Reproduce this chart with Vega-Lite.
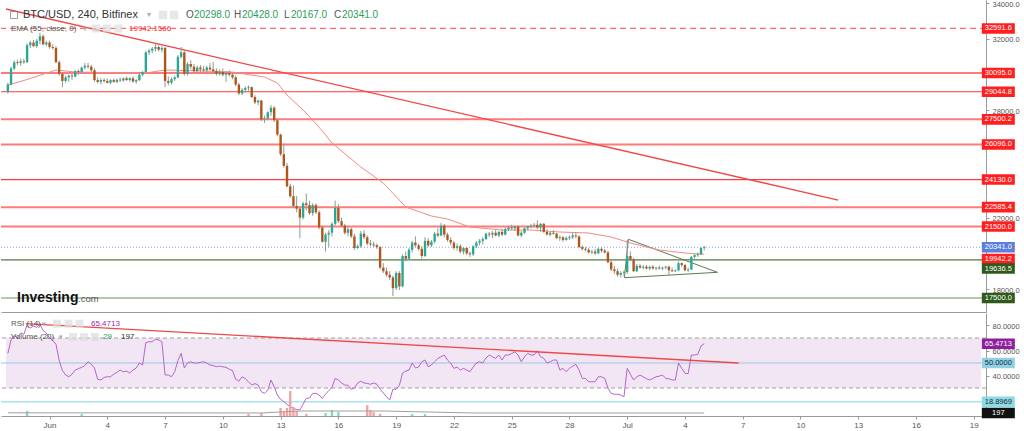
{
  "$schema": "https://vega.github.io/schema/vega-lite/v6.json",
  "padding": 0,
  "autosize": {"type": "pad"},
  "background": "#ffffff",
  "spacing": 1,
  "bounds": "flush",
  "config": {
    "view": {"stroke": null},
    "axis": {"labelFont": "Liberation Sans", "titleFont": "Liberation Sans"},
    "text": {"font": "Liberation Sans"}
  },
  "datasets": {
    "candles": [
      {"t":"2022-05-29T20:00","o":29050,"h":29550,"l":28950,"c":29450,"r":57.7},
      {"t":"2022-05-30T00:00","o":29450,"h":30450,"l":29400,"c":30350,"r":68.4},
      {"t":"2022-05-30T04:00","o":30350,"h":30800,"l":30250,"c":30700,"r":72},
      {"t":"2022-05-30T08:00","o":30700,"h":30850,"l":30550,"c":30650,"r":70},
      {"t":"2022-05-30T12:00","o":30650,"h":30900,"l":30500,"c":30750,"r":74},
      {"t":"2022-05-30T16:00","o":30750,"h":30900,"l":30600,"c":30700,"r":73},
      {"t":"2022-05-30T20:00","o":30700,"h":31750,"l":30650,"c":31650,"r":80.5},
      {"t":"2022-05-31T00:00","o":31650,"h":31900,"l":31500,"c":31800,"r":78},
      {"t":"2022-05-31T04:00","o":31800,"h":31950,"l":31550,"c":31600,"r":79.5},
      {"t":"2022-05-31T08:00","o":31600,"h":32000,"l":31500,"c":31900,"r":78.5},
      {"t":"2022-05-31T12:00","o":31900,"h":32350,"l":31700,"c":32150,"r":81},
      {"t":"2022-05-31T16:00","o":32150,"h":32250,"l":31650,"c":31700,"r":76},
      {"t":"2022-05-31T20:00","o":31700,"h":31900,"l":31600,"c":31800,"r":74},
      {"t":"2022-06-01T00:00","o":31800,"h":31900,"l":31450,"c":31550,"r":70},
      {"t":"2022-06-01T04:00","o":31550,"h":31700,"l":31400,"c":31500,"r":68},
      {"t":"2022-06-01T08:00","o":31500,"h":31600,"l":30650,"c":30700,"r":65},
      {"t":"2022-06-01T12:00","o":30700,"h":30800,"l":29950,"c":30050,"r":52},
      {"t":"2022-06-01T16:00","o":30050,"h":30150,"l":29300,"c":29650,"r":44},
      {"t":"2022-06-01T20:00","o":29650,"h":29950,"l":29550,"c":29850,"r":40.4},
      {"t":"2022-06-02T00:00","o":29850,"h":30000,"l":29600,"c":29950,"r":39},
      {"t":"2022-06-02T04:00","o":29950,"h":30050,"l":29700,"c":29900,"r":41},
      {"t":"2022-06-02T08:00","o":29900,"h":30250,"l":29850,"c":30200,"r":44.4},
      {"t":"2022-06-02T12:00","o":30200,"h":30300,"l":30000,"c":30150,"r":45.5},
      {"t":"2022-06-02T16:00","o":30150,"h":30450,"l":30100,"c":30400,"r":46.5},
      {"t":"2022-06-02T20:00","o":30400,"h":30650,"l":30300,"c":30500,"r":48},
      {"t":"2022-06-03T00:00","o":30500,"h":30650,"l":30350,"c":30450,"r":51},
      {"t":"2022-06-03T04:00","o":30450,"h":30550,"l":30150,"c":30250,"r":49},
      {"t":"2022-06-03T08:00","o":30250,"h":30350,"l":29600,"c":29700,"r":46},
      {"t":"2022-06-03T12:00","o":29700,"h":29850,"l":29500,"c":29600,"r":37},
      {"t":"2022-06-03T16:00","o":29600,"h":29800,"l":29450,"c":29700,"r":36.4},
      {"t":"2022-06-03T20:00","o":29700,"h":29800,"l":29550,"c":29650,"r":38.5},
      {"t":"2022-06-04T00:00","o":29650,"h":29800,"l":29500,"c":29550,"r":39},
      {"t":"2022-06-04T04:00","o":29550,"h":29750,"l":29480,"c":29700,"r":39},
      {"t":"2022-06-04T08:00","o":29700,"h":29800,"l":29550,"c":29600,"r":41},
      {"t":"2022-06-04T12:00","o":29600,"h":29780,"l":29520,"c":29720,"r":42.5},
      {"t":"2022-06-04T16:00","o":29720,"h":29850,"l":29600,"c":29680,"r":44.4},
      {"t":"2022-06-04T20:00","o":29680,"h":29850,"l":29600,"c":29800,"r":43},
      {"t":"2022-06-05T00:00","o":29800,"h":29900,"l":29650,"c":29700,"r":43.5},
      {"t":"2022-06-05T04:00","o":29700,"h":29850,"l":29600,"c":29800,"r":42},
      {"t":"2022-06-05T08:00","o":29800,"h":29900,"l":29550,"c":29620,"r":44.4},
      {"t":"2022-06-05T12:00","o":29620,"h":29750,"l":29500,"c":29700,"r":46},
      {"t":"2022-06-05T16:00","o":29700,"h":30050,"l":29650,"c":30000,"r":50},
      {"t":"2022-06-05T20:00","o":30000,"h":30200,"l":29900,"c":30150,"r":48.4},
      {"t":"2022-06-06T00:00","o":30150,"h":31350,"l":30100,"c":31250,"r":66.3},
      {"t":"2022-06-06T04:00","o":31250,"h":31450,"l":31100,"c":31350,"r":67},
      {"t":"2022-06-06T08:00","o":31350,"h":31550,"l":31200,"c":31450,"r":67},
      {"t":"2022-06-06T12:00","o":31450,"h":31750,"l":31300,"c":31550,"r":69},
      {"t":"2022-06-06T16:00","o":31550,"h":31650,"l":31300,"c":31400,"r":68.5},
      {"t":"2022-06-06T20:00","o":31400,"h":31600,"l":31250,"c":31500,"r":67},
      {"t":"2022-06-07T00:00","o":31500,"h":31550,"l":29300,"c":29650,"r":40.4},
      {"t":"2022-06-07T04:00","o":29650,"h":29900,"l":29400,"c":29550,"r":40.4},
      {"t":"2022-06-07T08:00","o":29550,"h":29850,"l":29450,"c":29750,"r":39},
      {"t":"2022-06-07T12:00","o":29750,"h":29950,"l":29650,"c":29850,"r":43},
      {"t":"2022-06-07T16:00","o":29850,"h":31100,"l":29800,"c":31000,"r":52},
      {"t":"2022-06-07T20:00","o":31000,"h":31550,"l":30900,"c":31250,"r":57.7},
      {"t":"2022-06-08T00:00","o":31250,"h":31350,"l":29950,"c":30050,"r":46},
      {"t":"2022-06-08T04:00","o":30050,"h":30700,"l":29950,"c":30600,"r":50},
      {"t":"2022-06-08T08:00","o":30600,"h":30800,"l":30300,"c":30450,"r":51},
      {"t":"2022-06-08T12:00","o":30450,"h":30600,"l":30100,"c":30200,"r":50},
      {"t":"2022-06-08T16:00","o":30200,"h":30500,"l":30100,"c":30400,"r":50},
      {"t":"2022-06-08T20:00","o":30400,"h":30550,"l":30150,"c":30300,"r":50.5},
      {"t":"2022-06-09T00:00","o":30300,"h":30500,"l":30100,"c":30250,"r":51},
      {"t":"2022-06-09T04:00","o":30250,"h":30500,"l":30150,"c":30400,"r":50},
      {"t":"2022-06-09T08:00","o":30400,"h":30650,"l":30250,"c":30300,"r":48.4},
      {"t":"2022-06-09T12:00","o":30300,"h":30700,"l":30100,"c":30200,"r":48},
      {"t":"2022-06-09T16:00","o":30200,"h":30350,"l":29950,"c":30050,"r":47},
      {"t":"2022-06-09T20:00","o":30050,"h":30300,"l":29950,"c":30150,"r":47.5},
      {"t":"2022-06-10T00:00","o":30150,"h":30350,"l":29900,"c":30000,"r":47},
      {"t":"2022-06-10T04:00","o":30000,"h":30200,"l":29600,"c":30100,"r":46.5},
      {"t":"2022-06-10T08:00","o":30100,"h":30250,"l":29900,"c":30000,"r":45},
      {"t":"2022-06-10T12:00","o":30000,"h":30100,"l":29750,"c":29850,"r":44},
      {"t":"2022-06-10T16:00","o":29850,"h":29950,"l":29350,"c":29450,"r":37},
      {"t":"2022-06-10T20:00","o":29450,"h":29550,"l":28850,"c":28950,"r":35.5},
      {"t":"2022-06-11T00:00","o":28950,"h":29250,"l":28850,"c":29150,"r":39},
      {"t":"2022-06-11T04:00","o":29150,"h":29350,"l":29000,"c":29250,"r":37.5},
      {"t":"2022-06-11T08:00","o":29250,"h":29400,"l":29100,"c":29300,"r":35},
      {"t":"2022-06-11T12:00","o":29300,"h":29350,"l":28700,"c":28750,"r":32.4},
      {"t":"2022-06-11T16:00","o":28750,"h":28850,"l":28350,"c":28450,"r":33.5},
      {"t":"2022-06-11T20:00","o":28450,"h":28600,"l":28300,"c":28550,"r":32.4},
      {"t":"2022-06-12T00:00","o":28550,"h":28600,"l":27400,"c":27500,"r":27},
      {"t":"2022-06-12T04:00","o":27500,"h":27700,"l":27300,"c":27550,"r":25.7},
      {"t":"2022-06-12T08:00","o":27550,"h":27950,"l":27450,"c":27900,"r":28.4},
      {"t":"2022-06-12T12:00","o":27900,"h":28300,"l":27700,"c":28150,"r":36.4},
      {"t":"2022-06-12T16:00","o":28150,"h":28250,"l":27350,"c":27450,"r":31},
      {"t":"2022-06-12T20:00","o":27450,"h":27550,"l":26550,"c":26650,"r":24.4},
      {"t":"2022-06-13T00:00","o":26650,"h":26700,"l":25450,"c":25550,"r":21},
      {"t":"2022-06-13T04:00","o":25550,"h":26150,"l":24800,"c":24900,"r":19},
      {"t":"2022-06-13T08:00","o":24900,"h":25050,"l":23700,"c":23750,"r":17},
      {"t":"2022-06-13T12:00","o":23750,"h":23900,"l":23100,"c":23200,"r":15},
      {"t":"2022-06-13T16:00","o":23200,"h":23800,"l":22550,"c":22650,"r":13.7},
      {"t":"2022-06-13T20:00","o":22650,"h":23200,"l":22300,"c":22500,"r":12.8},
      {"t":"2022-06-14T00:00","o":22500,"h":22600,"l":20850,"c":22000,"r":12.4},
      {"t":"2022-06-14T04:00","o":22000,"h":22900,"l":21900,"c":22800,"r":17},
      {"t":"2022-06-14T08:00","o":22800,"h":23350,"l":22400,"c":22700,"r":21.7},
      {"t":"2022-06-14T12:00","o":22700,"h":22950,"l":22150,"c":22250,"r":22},
      {"t":"2022-06-14T16:00","o":22250,"h":22800,"l":22100,"c":22700,"r":25.7},
      {"t":"2022-06-14T20:00","o":22700,"h":22800,"l":22200,"c":22300,"r":25.7},
      {"t":"2022-06-15T00:00","o":22300,"h":22400,"l":21350,"c":21450,"r":24.4},
      {"t":"2022-06-15T04:00","o":21450,"h":21550,"l":20600,"c":20650,"r":21.7},
      {"t":"2022-06-15T08:00","o":20650,"h":21150,"l":20100,"c":21050,"r":25},
      {"t":"2022-06-15T12:00","o":21050,"h":21300,"l":20350,"c":21150,"r":28},
      {"t":"2022-06-15T16:00","o":21150,"h":21750,"l":20950,"c":21650,"r":30.5},
      {"t":"2022-06-15T20:00","o":21650,"h":22950,"l":21550,"c":22550,"r":37.7},
      {"t":"2022-06-16T00:00","o":22550,"h":22750,"l":21700,"c":21800,"r":36.4},
      {"t":"2022-06-16T04:00","o":21800,"h":22000,"l":21450,"c":21550,"r":34},
      {"t":"2022-06-16T08:00","o":21550,"h":21650,"l":21050,"c":21150,"r":32.4},
      {"t":"2022-06-16T12:00","o":21150,"h":21500,"l":20950,"c":21350,"r":32.2},
      {"t":"2022-06-16T16:00","o":21350,"h":21450,"l":20850,"c":20950,"r":29},
      {"t":"2022-06-16T20:00","o":20950,"h":21100,"l":20200,"c":20300,"r":30},
      {"t":"2022-06-17T00:00","o":20300,"h":20500,"l":20250,"c":20400,"r":34},
      {"t":"2022-06-17T04:00","o":20400,"h":21250,"l":20300,"c":21100,"r":35.5},
      {"t":"2022-06-17T08:00","o":21100,"h":21300,"l":20800,"c":20900,"r":34},
      {"t":"2022-06-17T12:00","o":20900,"h":21000,"l":20450,"c":20550,"r":33.7},
      {"t":"2022-06-17T16:00","o":20550,"h":20750,"l":20400,"c":20500,"r":33},
      {"t":"2022-06-17T20:00","o":20500,"h":20650,"l":20350,"c":20450,"r":34},
      {"t":"2022-06-18T00:00","o":20450,"h":20550,"l":20250,"c":20350,"r":33},
      {"t":"2022-06-18T04:00","o":20350,"h":20400,"l":19100,"c":19200,"r":29},
      {"t":"2022-06-18T08:00","o":19200,"h":19450,"l":18900,"c":19000,"r":26},
      {"t":"2022-06-18T12:00","o":19000,"h":19200,"l":18700,"c":18800,"r":23},
      {"t":"2022-06-18T16:00","o":18800,"h":19000,"l":18500,"c":18650,"r":20.4},
      {"t":"2022-06-18T20:00","o":18650,"h":18750,"l":17600,"c":18050,"r":29},
      {"t":"2022-06-19T00:00","o":18050,"h":19000,"l":17950,"c":18900,"r":29},
      {"t":"2022-06-19T04:00","o":18900,"h":19000,"l":17950,"c":18150,"r":32},
      {"t":"2022-06-19T08:00","o":18150,"h":19950,"l":18100,"c":19850,"r":42},
      {"t":"2022-06-19T12:00","o":19850,"h":20100,"l":19550,"c":19700,"r":43.5},
      {"t":"2022-06-19T16:00","o":19700,"h":20300,"l":19650,"c":20200,"r":44.4},
      {"t":"2022-06-19T20:00","o":20200,"h":20700,"l":20050,"c":20600,"r":50},
      {"t":"2022-06-20T00:00","o":20600,"h":20950,"l":20350,"c":20450,"r":46},
      {"t":"2022-06-20T04:00","o":20450,"h":20550,"l":20150,"c":20250,"r":46.8},
      {"t":"2022-06-20T08:00","o":20250,"h":20400,"l":19700,"c":19850,"r":51},
      {"t":"2022-06-20T12:00","o":19850,"h":20900,"l":19800,"c":20700,"r":52.4},
      {"t":"2022-06-20T16:00","o":20700,"h":20850,"l":20350,"c":20450,"r":47},
      {"t":"2022-06-20T20:00","o":20450,"h":20750,"l":20350,"c":20650,"r":48.4},
      {"t":"2022-06-21T00:00","o":20650,"h":21200,"l":20550,"c":21100,"r":51},
      {"t":"2022-06-21T04:00","o":21100,"h":21400,"l":20900,"c":21000,"r":53.7},
      {"t":"2022-06-21T08:00","o":21000,"h":21700,"l":20950,"c":21550,"r":55},
      {"t":"2022-06-21T12:00","o":21550,"h":21650,"l":20900,"c":21050,"r":56.4},
      {"t":"2022-06-21T16:00","o":21050,"h":21150,"l":20650,"c":20750,"r":52.4},
      {"t":"2022-06-21T20:00","o":20750,"h":20900,"l":20450,"c":20600,"r":50},
      {"t":"2022-06-22T00:00","o":20600,"h":20700,"l":20200,"c":20300,"r":45.7},
      {"t":"2022-06-22T04:00","o":20300,"h":20550,"l":20150,"c":20400,"r":46.8},
      {"t":"2022-06-22T08:00","o":20400,"h":20500,"l":20000,"c":20100,"r":44.4},
      {"t":"2022-06-22T12:00","o":20100,"h":20350,"l":19950,"c":20300,"r":45.7},
      {"t":"2022-06-22T16:00","o":20300,"h":20350,"l":19900,"c":20000,"r":44.4},
      {"t":"2022-06-22T20:00","o":20000,"h":20100,"l":19800,"c":19950,"r":43},
      {"t":"2022-06-23T00:00","o":19950,"h":20450,"l":19850,"c":20400,"r":46.8},
      {"t":"2022-06-23T04:00","o":20400,"h":20700,"l":20300,"c":20600,"r":50},
      {"t":"2022-06-23T08:00","o":20600,"h":20800,"l":20450,"c":20700,"r":51},
      {"t":"2022-06-23T12:00","o":20700,"h":20900,"l":20500,"c":20800,"r":50},
      {"t":"2022-06-23T16:00","o":20800,"h":21150,"l":20750,"c":21100,"r":54},
      {"t":"2022-06-23T20:00","o":21100,"h":21200,"l":20900,"c":21050,"r":56.4},
      {"t":"2022-06-24T00:00","o":21050,"h":21250,"l":20850,"c":21150,"r":55},
      {"t":"2022-06-24T04:00","o":21150,"h":21300,"l":20950,"c":21000,"r":53.7},
      {"t":"2022-06-24T08:00","o":21000,"h":21250,"l":20900,"c":21200,"r":56.4},
      {"t":"2022-06-24T12:00","o":21200,"h":21350,"l":20950,"c":21050,"r":52.4},
      {"t":"2022-06-24T16:00","o":21050,"h":21450,"l":21000,"c":21350,"r":56.4},
      {"t":"2022-06-24T20:00","o":21350,"h":21550,"l":21250,"c":21450,"r":56.4},
      {"t":"2022-06-25T00:00","o":21450,"h":21600,"l":21300,"c":21400,"r":57.5},
      {"t":"2022-06-25T04:00","o":21400,"h":21550,"l":21250,"c":21500,"r":59},
      {"t":"2022-06-25T08:00","o":21500,"h":21550,"l":20950,"c":21000,"r":56.4},
      {"t":"2022-06-25T12:00","o":21000,"h":21250,"l":20900,"c":21150,"r":51},
      {"t":"2022-06-25T16:00","o":21150,"h":21450,"l":21100,"c":21400,"r":55},
      {"t":"2022-06-25T20:00","o":21400,"h":21550,"l":21300,"c":21500,"r":57.7},
      {"t":"2022-06-26T00:00","o":21500,"h":21650,"l":21400,"c":21550,"r":56.4},
      {"t":"2022-06-26T04:00","o":21550,"h":21700,"l":21450,"c":21600,"r":56.4},
      {"t":"2022-06-26T08:00","o":21600,"h":21850,"l":21350,"c":21450,"r":59.8},
      {"t":"2022-06-26T12:00","o":21450,"h":21700,"l":21200,"c":21650,"r":55},
      {"t":"2022-06-26T16:00","o":21650,"h":21700,"l":21150,"c":21200,"r":53.7},
      {"t":"2022-06-26T20:00","o":21200,"h":21350,"l":21000,"c":21050,"r":50},
      {"t":"2022-06-27T00:00","o":21050,"h":21200,"l":20950,"c":21150,"r":51},
      {"t":"2022-06-27T04:00","o":21150,"h":21300,"l":21050,"c":21100,"r":52.4},
      {"t":"2022-06-27T08:00","o":21100,"h":21150,"l":20800,"c":20850,"r":52.4},
      {"t":"2022-06-27T12:00","o":20850,"h":21000,"l":20700,"c":20900,"r":44.4},
      {"t":"2022-06-27T16:00","o":20900,"h":20950,"l":20650,"c":20750,"r":45.7},
      {"t":"2022-06-27T20:00","o":20750,"h":20950,"l":20700,"c":20850,"r":43},
      {"t":"2022-06-28T00:00","o":20850,"h":21000,"l":20750,"c":20900,"r":45.7},
      {"t":"2022-06-28T04:00","o":20900,"h":21150,"l":20800,"c":21000,"r":47.5},
      {"t":"2022-06-28T08:00","o":21000,"h":21200,"l":20850,"c":20950,"r":49},
      {"t":"2022-06-28T12:00","o":20950,"h":21000,"l":20300,"c":20350,"r":44.4},
      {"t":"2022-06-28T16:00","o":20350,"h":20450,"l":20150,"c":20250,"r":37.7},
      {"t":"2022-06-28T20:00","o":20250,"h":20350,"l":20100,"c":20200,"r":37.7},
      {"t":"2022-06-29T00:00","o":20200,"h":20300,"l":20000,"c":20050,"r":35},
      {"t":"2022-06-29T04:00","o":20050,"h":20200,"l":19950,"c":20100,"r":35},
      {"t":"2022-06-29T08:00","o":20100,"h":20250,"l":19900,"c":20000,"r":35},
      {"t":"2022-06-29T12:00","o":20000,"h":20300,"l":19950,"c":20250,"r":39},
      {"t":"2022-06-29T16:00","o":20250,"h":20350,"l":20050,"c":20150,"r":39},
      {"t":"2022-06-29T20:00","o":20150,"h":20250,"l":20000,"c":20050,"r":37.7},
      {"t":"2022-06-30T00:00","o":20050,"h":20150,"l":19450,"c":19500,"r":30},
      {"t":"2022-06-30T04:00","o":19500,"h":19600,"l":19000,"c":19100,"r":25.7},
      {"t":"2022-06-30T08:00","o":19100,"h":19300,"l":18850,"c":19000,"r":25},
      {"t":"2022-06-30T12:00","o":19000,"h":19150,"l":18700,"c":18800,"r":25},
      {"t":"2022-06-30T16:00","o":18800,"h":19000,"l":18650,"c":18900,"r":24.4},
      {"t":"2022-06-30T20:00","o":18900,"h":19050,"l":18700,"c":18950,"r":23},
      {"t":"2022-07-01T00:00","o":18950,"h":20750,"l":18850,"c":19850,"r":45.7},
      {"t":"2022-07-01T04:00","o":19850,"h":20100,"l":19550,"c":19650,"r":41},
      {"t":"2022-07-01T08:00","o":19650,"h":19750,"l":18950,"c":19000,"r":36.4},
      {"t":"2022-07-01T12:00","o":19000,"h":19400,"l":18950,"c":19300,"r":39},
      {"t":"2022-07-01T16:00","o":19300,"h":19400,"l":19150,"c":19200,"r":40.4},
      {"t":"2022-07-01T20:00","o":19200,"h":19350,"l":19100,"c":19250,"r":39},
      {"t":"2022-07-02T00:00","o":19250,"h":19350,"l":19100,"c":19150,"r":37.4},
      {"t":"2022-07-02T04:00","o":19150,"h":19300,"l":19050,"c":19250,"r":36.4},
      {"t":"2022-07-02T08:00","o":19250,"h":19350,"l":19100,"c":19150,"r":37.7},
      {"t":"2022-07-02T12:00","o":19150,"h":19250,"l":19050,"c":19200,"r":39},
      {"t":"2022-07-02T16:00","o":19200,"h":19300,"l":19100,"c":19150,"r":39.5},
      {"t":"2022-07-02T20:00","o":19150,"h":19250,"l":19050,"c":19200,"r":40.4},
      {"t":"2022-07-03T00:00","o":19200,"h":19300,"l":19100,"c":19250,"r":37.7},
      {"t":"2022-07-03T04:00","o":19250,"h":19300,"l":18800,"c":19050,"r":37.4},
      {"t":"2022-07-03T08:00","o":19050,"h":19200,"l":18950,"c":19000,"r":36.4},
      {"t":"2022-07-03T12:00","o":19000,"h":19100,"l":18950,"c":19050,"r":36.4},
      {"t":"2022-07-03T16:00","o":19050,"h":19550,"l":19000,"c":19450,"r":50},
      {"t":"2022-07-03T20:00","o":19450,"h":19500,"l":19250,"c":19350,"r":45.7},
      {"t":"2022-07-04T00:00","o":19350,"h":19400,"l":19000,"c":19050,"r":41.7},
      {"t":"2022-07-04T04:00","o":19050,"h":19200,"l":18950,"c":19100,"r":41.5},
      {"t":"2022-07-04T08:00","o":19100,"h":19850,"l":19050,"c":19800,"r":56.4},
      {"t":"2022-07-04T12:00","o":19800,"h":19950,"l":19700,"c":19900,"r":56.4},
      {"t":"2022-07-04T16:00","o":19900,"h":20050,"l":19800,"c":19950,"r":57},
      {"t":"2022-07-04T20:00","o":19950,"h":20350,"l":19900,"c":20300,"r":63.6},
      {"t":"2022-07-05T00:00","o":20298,"h":20428,"l":20167,"c":20341,"r":65.4713}
    ],
    "ema": [
      {"t":"2022-05-29T20:00","v":29420},
      {"t":"2022-05-30T20:00","v":29730},
      {"t":"2022-06-01T08:00","v":30263},
      {"t":"2022-06-02T08:00","v":30150},
      {"t":"2022-06-03T20:00","v":30120},
      {"t":"2022-06-06T00:00","v":30095},
      {"t":"2022-06-07T00:00","v":30263},
      {"t":"2022-06-09T00:00","v":30207},
      {"t":"2022-06-10T12:00","v":30150},
      {"t":"2022-06-12T04:00","v":29870},
      {"t":"2022-06-12T20:00","v":29535},
      {"t":"2022-06-13T08:00","v":28863},
      {"t":"2022-06-14T04:00","v":28024},
      {"t":"2022-06-14T16:00","v":27464},
      {"t":"2022-06-15T04:00","v":26850},
      {"t":"2022-06-15T16:00","v":26176},
      {"t":"2022-06-16T04:00","v":25730},
      {"t":"2022-06-17T04:00","v":24833},
      {"t":"2022-06-18T08:00","v":23937},
      {"t":"2022-06-19T12:00","v":22594},
      {"t":"2022-06-20T20:00","v":22090},
      {"t":"2022-06-21T16:00","v":21922},
      {"t":"2022-06-22T20:00","v":21474},
      {"t":"2022-06-24T12:00","v":21306},
      {"t":"2022-06-26T00:00","v":21306},
      {"t":"2022-06-27T12:00","v":21194},
      {"t":"2022-06-29T00:00","v":21138},
      {"t":"2022-06-30T04:00","v":20914},
      {"t":"2022-07-01T04:00","v":20578},
      {"t":"2022-07-02T16:00","v":20186},
      {"t":"2022-07-04T00:00","v":20018},
      {"t":"2022-07-05T00:00","v":19942.16}
    ],
    "levels": [
      {"p":32591.6,"k":"dash"},
      {"p":30095.0,"k":"soft"},
      {"p":29044.8,"k":"hard"},
      {"p":27500.2,"k":"soft"},
      {"p":26096.0,"k":"soft"},
      {"p":24130.0,"k":"hard"},
      {"p":22585.4,"k":"soft"},
      {"p":21500.0,"k":"soft"},
      {"p":20341.0,"k":"last"},
      {"p":19942.2,"k":"ema"},
      {"p":19636.5,"k":"sup"},
      {"p":17500.0,"k":"sup2"}
    ],
    "vol": [
      {"t":"2022-05-30T20:00","v":330,"up":true},
      {"t":"2022-06-02T16:00","v":130,"up":true},
      {"t":"2022-06-11T08:00","v":130,"up":false},
      {"t":"2022-06-12T00:00","v":200,"up":false},
      {"t":"2022-06-13T00:00","v":530,"up":false},
      {"t":"2022-06-13T04:00","v":330,"up":false},
      {"t":"2022-06-13T08:00","v":530,"up":false},
      {"t":"2022-06-13T12:00","v":1650,"up":false},
      {"t":"2022-06-13T16:00","v":600,"up":false},
      {"t":"2022-06-13T20:00","v":330,"up":false},
      {"t":"2022-06-14T08:00","v":150,"up":false},
      {"t":"2022-06-15T08:00","v":200,"up":true},
      {"t":"2022-06-15T16:00","v":400,"up":true},
      {"t":"2022-06-16T00:00","v":260,"up":true},
      {"t":"2022-06-17T12:00","v":720,"up":false},
      {"t":"2022-06-17T16:00","v":400,"up":false},
      {"t":"2022-06-17T20:00","v":260,"up":false},
      {"t":"2022-06-18T04:00","v":150,"up":false},
      {"t":"2022-06-19T20:00","v":130,"up":true},
      {"t":"2022-06-20T12:00","v":130,"up":true}
    ],
    "vma": [
      {"t":"2022-05-29T20:00","v":210},
      {"t":"2022-06-12T00:00","v":200},
      {"t":"2022-06-13T12:00","v":300},
      {"t":"2022-06-14T00:00","v":330},
      {"t":"2022-06-18T12:00","v":330},
      {"t":"2022-06-20T00:00","v":280},
      {"t":"2022-06-23T00:00","v":200},
      {"t":"2022-07-05T00:00","v":197}
    ]
  },
  "vconcat": [
    {
      "width": 985,
      "height": 312,
      "layer": [
        {
          "data": {"name": "levels"},
          "transform": [{"filter": "datum.k != 'ema'"}],
          "mark": {"type": "rule"},
          "encoding": {
            "y": {"field": "p", "type": "quantitative", "scale": {"domain": [16716, 34182], "nice": false, "zero": false},
                  "axis": {"orient": "right", "values": [34000, 32000, 28000, 22000, 18000], "format": ".1f", "labelColor": "#555555", "labelFontSize": 7.5, "tickSize": 3, "tickColor": "#999999", "domainColor": "#9a9a9a", "labelPadding": 3, "labelOffset": 1, "grid": false, "title": null}},
            "color": {"condition": [
              {"test": "datum.k == 'last'", "value": "#8aa2ee"},
              {"test": "datum.k == 'sup'", "value": "#4f7b3b"},
              {"test": "datum.k == 'sup2'", "value": "#6a9657"},
              {"test": "datum.k == 'soft'", "value": "#ff7b7b"},
              {"test": "datum.k == 'dash'", "value": "#ff6b6b"}
            ], "value": "#ff3b3b"},
            "strokeWidth": {"condition": {"test": "datum.k == 'soft'", "value": 2}, "value": 1.2},
            "strokeDash": {"condition": [
              {"test": "datum.k == 'dash'", "value": [6, 4]},
              {"test": "datum.k == 'last'", "value": [1, 2]}
            ], "value": [1, 0]}
          }
        },
        {
          "data": {"values": [{"t": "2022-05-29T17:43", "p": 33678}, {"t": "2022-07-11T23:00", "p": 22985}]},
          "mark": {"type": "line", "color": "#f04848", "strokeWidth": 1.3},
          "encoding": {
            "x": {"field": "t", "type": "temporal", "scale": {"domain": [{"year": 2022, "month": 5, "date": 29, "hours": 17, "minutes": 43}, {"year": 2022, "month": 7, "date": 19, "hours": 9}], "nice": false},
                  "axis": {"labels": false, "ticks": false, "domain": true, "domainColor": "#9a9a9a", "grid": false, "title": null}},
            "y": {"field": "p", "type": "quantitative"}
          }
        },
        {
          "data": {"values": [
            {"s": "a", "t": "2022-07-01T01:30", "p": 20786}, {"s": "a", "t": "2022-07-05T16:30", "p": 18938},
            {"s": "b", "t": "2022-06-30T20:30", "p": 18636}, {"s": "b", "t": "2022-07-05T16:30", "p": 18938},
            {"s": "c", "t": "2022-06-30T20:30", "p": 18636}, {"s": "c", "t": "2022-07-01T01:30", "p": 20786}
          ]},
          "mark": {"type": "line", "color": "#5c7a57", "strokeWidth": 1},
          "encoding": {
            "x": {"field": "t", "type": "temporal"},
            "y": {"field": "p", "type": "quantitative"},
            "detail": {"field": "s", "type": "nominal"}
          }
        },
        {
          "data": {"name": "ema"},
          "mark": {"type": "line", "color": "#f28b82", "strokeWidth": 1},
          "encoding": {
            "x": {"field": "t", "type": "temporal"},
            "y": {"field": "v", "type": "quantitative"}
          }
        },
        {
          "data": {"name": "candles"},
          "mark": {"type": "rule", "color": "#8a9b8e", "strokeWidth": 1},
          "encoding": {
            "x": {"field": "t", "type": "temporal"},
            "y": {"field": "l", "type": "quantitative"},
            "y2": {"field": "h"}
          }
        },
        {
          "data": {"name": "candles"},
          "mark": {"type": "bar", "width": 2.4},
          "encoding": {
            "x": {"field": "t", "type": "temporal"},
            "y": {"field": "o", "type": "quantitative"},
            "y2": {"field": "c"},
            "color": {"condition": {"test": "datum.c >= datum.o", "value": "#2aa895"}, "value": "#b0561c"}
          }
        },
        {
          "data": {"name": "levels"},
          "transform": [{"filter": "datum.k != 'ema' && datum.k != 'sup'"}],
          "encoding": {
            "x": {"datum": {"year": 2022, "month": 7, "date": 20, "hours": 6, "minutes": 36}, "type": "temporal"},
            "y": {"field": "p", "type": "quantitative"}
          },
          "layer": [
            {"mark": {"type": "point", "shape": "M-1,-0.32H1V0.32H-1Z", "filled": true, "size": 1089, "opacity": 1, "strokeWidth": 0},
             "encoding": {"color": {"condition": [
               {"test": "datum.k == 'last'", "value": "#5b7fdb"},
               {"test": "datum.k == 'sup2'", "value": "#2f5a1c"}
             ], "value": "#ff1f1f"}}},
            {"mark": {"type": "text", "fontSize": 7.5, "color": "#ffffff", "align": "center", "baseline": "middle"},
             "encoding": {"text": {"field": "p", "type": "quantitative", "format": ".1f"}}}
          ]
        },
        {
          "data": {"name": "levels"},
          "transform": [{"filter": "datum.k == 'ema'"}],
          "encoding": {
            "x": {"datum": {"year": 2022, "month": 7, "date": 20, "hours": 6, "minutes": 36}, "type": "temporal"},
            "y": {"field": "p", "type": "quantitative"}
          },
          "layer": [
            {"mark": {"type": "point", "shape": "M-1,-0.32H1V0.32H-1Z", "filled": true, "size": 1089, "opacity": 1, "strokeWidth": 0, "color": "#ff1f1f", "yOffset": 4.7}},
            {"mark": {"type": "text", "fontSize": 7.5, "color": "#ffffff", "align": "center", "baseline": "middle", "yOffset": 4.7},
             "encoding": {"text": {"field": "p", "type": "quantitative", "format": ".1f"}}}
          ]
        },
        {
          "data": {"name": "levels"},
          "transform": [{"filter": "datum.k == 'sup'"}],
          "encoding": {
            "x": {"datum": {"year": 2022, "month": 7, "date": 20, "hours": 6, "minutes": 36}, "type": "temporal"},
            "y": {"field": "p", "type": "quantitative"}
          },
          "layer": [
            {"mark": {"type": "point", "shape": "M-1,-0.32H1V0.32H-1Z", "filled": true, "size": 1089, "opacity": 1, "strokeWidth": 0, "color": "#2f5a1c", "yOffset": 8.7}},
            {"mark": {"type": "text", "fontSize": 7.5, "color": "#ffffff", "align": "center", "baseline": "middle", "yOffset": 8.7},
             "encoding": {"text": {"field": "p", "type": "quantitative", "format": ".1f"}}}
          ]
        },
        {
          "data": {"values": [{}]},
          "encoding": {
            "x": {"datum": {"year": 2022, "month": 5, "date": 29, "hours": 17, "minutes": 43}, "type": "temporal"},
            "y": {"datum": 33342, "type": "quantitative"}
          },
          "layer": [
            {"mark": {"type": "point", "shape": "square", "filled": false, "size": 49, "color": "#777777", "strokeWidth": 1, "xOffset": 8}},
            {"mark": {"type": "text", "align": "left", "baseline": "middle", "fontSize": 11, "color": "#333333", "dx": 17, "text": "BTC/USD, 240, Bitfinex"}},
            {"mark": {"type": "text", "align": "left", "baseline": "middle", "fontSize": 8, "color": "#aaaaaa", "dx": 141, "text": "▾"}},
            {"mark": {"type": "point", "shape": "square", "filled": true, "size": 72, "color": "#dddddd", "xOffset": 157}},
            {"mark": {"type": "point", "shape": "square", "filled": true, "size": 72, "color": "#dddddd", "xOffset": 168}},
            {"mark": {"type": "text", "align": "left", "baseline": "middle", "fontSize": 10, "color": "#555555", "dx": 180, "text": "O"}},
            {"mark": {"type": "text", "align": "left", "baseline": "middle", "fontSize": 10, "color": "#2e9d57", "dx": 188, "text": "20298.0"}},
            {"mark": {"type": "text", "align": "left", "baseline": "middle", "fontSize": 10, "color": "#555555", "dx": 228, "text": "H"}},
            {"mark": {"type": "text", "align": "left", "baseline": "middle", "fontSize": 10, "color": "#2e9d57", "dx": 236, "text": "20428.0"}},
            {"mark": {"type": "text", "align": "left", "baseline": "middle", "fontSize": 10, "color": "#555555", "dx": 278, "text": "L"}},
            {"mark": {"type": "text", "align": "left", "baseline": "middle", "fontSize": 10, "color": "#2e9d57", "dx": 285, "text": "20167.0"}},
            {"mark": {"type": "text", "align": "left", "baseline": "middle", "fontSize": 10, "color": "#555555", "dx": 328, "text": "C"}},
            {"mark": {"type": "text", "align": "left", "baseline": "middle", "fontSize": 10, "color": "#2e9d57", "dx": 336, "text": "20341.0"}}
          ]
        },
        {
          "data": {"values": [{}]},
          "encoding": {
            "x": {"datum": {"year": 2022, "month": 5, "date": 29, "hours": 17, "minutes": 43}, "type": "temporal"},
            "y": {"datum": 32586, "type": "quantitative"}
          },
          "layer": [
            {"mark": {"type": "text", "align": "left", "baseline": "middle", "fontSize": 8, "color": "#555555", "dx": 5, "text": "EMA (55, close, 0)"}},
            {"mark": {"type": "text", "align": "left", "baseline": "middle", "fontSize": 7, "color": "#aaaaaa", "dx": 77, "text": "▾"}},
            {"mark": {"type": "point", "shape": "square", "filled": true, "size": 64, "color": "#dddddd", "xOffset": 90}},
            {"mark": {"type": "point", "shape": "square", "filled": true, "size": 64, "color": "#dddddd", "xOffset": 101}},
            {"mark": {"type": "point", "shape": "square", "filled": true, "size": 64, "color": "#dddddd", "xOffset": 112.5}},
            {"mark": {"type": "text", "align": "left", "baseline": "middle", "fontSize": 8, "color": "#ff2a2a", "dx": 123, "text": "19942.1566"}}
          ]
        },
        {
          "data": {"values": [{}]},
          "encoding": {
            "x": {"datum": {"year": 2022, "month": 5, "date": 29, "hours": 17, "minutes": 43}, "type": "temporal"},
            "y": {"datum": 17276, "type": "quantitative"}
          },
          "layer": [
            {"mark": {"type": "text", "align": "left", "baseline": "alphabetic", "fontSize": 14, "fontWeight": "bold", "color": "#111111", "dx": 11, "text": "Investing"}},
            {"mark": {"type": "text", "align": "left", "baseline": "alphabetic", "fontSize": 9.5, "color": "#555555", "dx": 72, "text": ".com"}}
          ]
        }
      ]
    },
    {
      "width": 985,
      "height": 103,
      "layer": [
        {
          "layer": [
            {
              "data": {"values": [{}]},
              "mark": {"type": "rect", "color": "#f2e6f5"},
              "encoding": {
                "x": {"datum": {"year": 2022, "month": 5, "date": 29, "hours": 17, "minutes": 43}, "type": "temporal", "scale": {"domain": [{"year": 2022, "month": 5, "date": 29, "hours": 17, "minutes": 43}, {"year": 2022, "month": 7, "date": 19, "hours": 9}], "nice": false},
                      "axis": {"values": [
                        {"year": 2022, "month": 6, "date": 1}, {"year": 2022, "month": 6, "date": 4}, {"year": 2022, "month": 6, "date": 7},
                        {"year": 2022, "month": 6, "date": 10}, {"year": 2022, "month": 6, "date": 13}, {"year": 2022, "month": 6, "date": 16},
                        {"year": 2022, "month": 6, "date": 19}, {"year": 2022, "month": 6, "date": 22}, {"year": 2022, "month": 6, "date": 25},
                        {"year": 2022, "month": 6, "date": 28}, {"year": 2022, "month": 7, "date": 1}, {"year": 2022, "month": 7, "date": 4},
                        {"year": 2022, "month": 7, "date": 7}, {"year": 2022, "month": 7, "date": 10}, {"year": 2022, "month": 7, "date": 13},
                        {"year": 2022, "month": 7, "date": 16}, {"year": 2022, "month": 7, "date": 19}],
                        "labelExpr": "date(datum.value) == 1 ? timeFormat(datum.value, '%b') : timeFormat(datum.value, '%-d')",
                        "labelColor": "#555555", "labelFontSize": 8, "tickSize": 3, "tickColor": "#999999", "domainColor": "#9a9a9a",
                        "labelPadding": 2, "grid": false, "title": null, "labelFlush": false, "labelOverlap": false}},
                "x2": {"datum": {"year": 2022, "month": 7, "date": 19, "hours": 9}},
                "y": {"datum": 30, "type": "quantitative", "scale": {"domain": [7.6, 90], "nice": false, "zero": false},
                      "axis": {"orient": "right", "values": [80, 60, 40], "format": ".4f", "labelColor": "#555555", "labelFontSize": 7.5, "tickSize": 3, "tickColor": "#999999", "domainColor": "#9a9a9a", "labelPadding": 3, "labelOffset": 1, "grid": false, "title": null}},
                "y2": {"datum": 70}
              }
            },
            {
              "data": {"values": [{"v": 70}, {"v": 30}]},
              "mark": {"type": "rule", "color": "#a0a0a0", "strokeDash": [4, 3], "strokeWidth": 1},
              "encoding": {"y": {"field": "v", "type": "quantitative"}}
            },
            {
              "data": {"values": [{"v": 50, "k": "mid"}, {"v": 18.8969, "k": "low"}]},
              "mark": {"type": "rule", "strokeWidth": 1},
              "encoding": {
                "y": {"field": "v", "type": "quantitative"},
                "color": {"condition": {"test": "datum.k == 'mid'", "value": "#9fc3e6"}, "value": "#7fd6e3"}
              }
            },
            {
              "data": {"name": "candles"},
              "mark": {"type": "line", "color": "#b565c8", "strokeWidth": 1},
              "encoding": {
                "x": {"field": "t", "type": "temporal"},
                "y": {"field": "r", "type": "quantitative"}
              }
            },
            {
              "data": {"values": [{"t": "2022-05-30T18:23", "v": 81.5}, {"t": "2022-07-06T18:43", "v": 50.0}]},
              "mark": {"type": "line", "color": "#f04848", "strokeWidth": 1.3},
              "encoding": {
                "x": {"field": "t", "type": "temporal"},
                "y": {"field": "v", "type": "quantitative"}
              }
            },
            {
              "data": {"values": [{"v": 65.4713, "k": "rsi"}, {"v": 50, "k": "mid"}, {"v": 18.8969, "k": "low"}]},
              "encoding": {
                "x": {"datum": {"year": 2022, "month": 7, "date": 20, "hours": 6, "minutes": 36}, "type": "temporal"},
                "y": {"field": "v", "type": "quantitative"}
              },
              "layer": [
                {"mark": {"type": "point", "shape": "M-1,-0.32H1V0.32H-1Z", "filled": true, "size": 1089, "opacity": 1, "strokeWidth": 0},
                 "encoding": {"color": {"condition": [
                   {"test": "datum.k == 'rsi'", "value": "#8e1f9e"},
                   {"test": "datum.k == 'mid'", "value": "#8fd0e4"}
                 ], "value": "#8ddbe6"}}},
                {"mark": {"type": "text", "fontSize": 7.5, "align": "center", "baseline": "middle"},
                 "encoding": {
                   "text": {"field": "v", "type": "quantitative", "format": ".4f"},
                   "color": {"condition": {"test": "datum.k == 'rsi'", "value": "#ffffff"}, "value": "#1b2b35"}
                 }}
              ]
            },
            {
              "data": {"values": [{}]},
              "encoding": {
                "x": {"datum": {"year": 2022, "month": 5, "date": 29, "hours": 17, "minutes": 43}, "type": "temporal"},
                "y": {"datum": 81.44, "type": "quantitative"}
              },
              "layer": [
                {"mark": {"type": "text", "align": "left", "baseline": "middle", "fontSize": 8, "color": "#555555", "dx": 5, "text": "RSI (14)"}},
                {"mark": {"type": "text", "align": "left", "baseline": "middle", "fontSize": 7, "color": "#aaaaaa", "dx": 36, "text": "▾"}},
                {"mark": {"type": "point", "shape": "square", "filled": true, "size": 64, "color": "#dddddd", "xOffset": 51}},
                {"mark": {"type": "point", "shape": "square", "filled": true, "size": 64, "color": "#dddddd", "xOffset": 62.5}},
                {"mark": {"type": "point", "shape": "square", "filled": true, "size": 64, "color": "#dddddd", "xOffset": 73.5}},
                {"mark": {"type": "text", "align": "left", "baseline": "middle", "fontSize": 8, "color": "#9c27b0", "dx": 85, "text": "65.4713"}}
              ]
            },
            {
              "data": {"values": [{}]},
              "encoding": {
                "x": {"datum": {"year": 2022, "month": 5, "date": 29, "hours": 17, "minutes": 43}, "type": "temporal"},
                "y": {"datum": 70.8, "type": "quantitative"}
              },
              "layer": [
                {"mark": {"type": "text", "align": "left", "baseline": "middle", "fontSize": 8, "color": "#555555", "dx": 5, "text": "Volume (20)"}},
                {"mark": {"type": "text", "align": "left", "baseline": "middle", "fontSize": 7, "color": "#aaaaaa", "dx": 53, "text": "▾"}},
                {"mark": {"type": "point", "shape": "square", "filled": true, "size": 64, "color": "#dddddd", "xOffset": 67}},
                {"mark": {"type": "point", "shape": "square", "filled": true, "size": 64, "color": "#dddddd", "xOffset": 78}},
                {"mark": {"type": "point", "shape": "square", "filled": true, "size": 64, "color": "#dddddd", "xOffset": 89}},
                {"mark": {"type": "text", "align": "left", "baseline": "middle", "fontSize": 8, "color": "#26a65b", "dx": 97, "text": "29"}},
                {"mark": {"type": "text", "align": "left", "baseline": "middle", "fontSize": 8, "color": "#333333", "dx": 115, "text": "197"}}
              ]
            }
          ]
        },
        {
          "layer": [
            {
              "data": {"name": "vol"},
              "mark": {"type": "bar", "width": 2.4},
              "encoding": {
                "x": {"field": "t", "type": "temporal"},
                "y": {"field": "v", "type": "quantitative", "scale": {"domain": [0, 6800], "nice": false, "zero": false}, "axis": null},
                "y2": {"datum": 0},
                "color": {"condition": {"test": "datum.up", "value": "#86d9b9"}, "value": "#f3a3a3"}
              }
            },
            {
              "data": {"name": "vma"},
              "mark": {"type": "line", "color": "#a0a0a0", "strokeWidth": 1},
              "encoding": {
                "x": {"field": "t", "type": "temporal"},
                "y": {"field": "v", "type": "quantitative", "axis": null}
              }
            },
            {
              "data": {"values": [{"v": 197}]},
              "encoding": {
                "x": {"datum": {"year": 2022, "month": 7, "date": 20, "hours": 6, "minutes": 36}, "type": "temporal"},
                "y": {"field": "v", "type": "quantitative", "axis": null}
              },
              "layer": [
                {"mark": {"type": "point", "shape": "M-1,-0.32H1V0.32H-1Z", "filled": true, "size": 1089, "opacity": 1, "strokeWidth": 0, "color": "#111111"}},
                {"mark": {"type": "text", "fontSize": 7.5, "color": "#ffffff", "align": "center", "baseline": "middle"},
                 "encoding": {"text": {"field": "v", "type": "quantitative", "format": "d"}}}
              ]
            }
          ]
        }
      ],
      "resolve": {"scale": {"y": "independent"}, "axis": {"y": "independent"}}
    }
  ]
}
